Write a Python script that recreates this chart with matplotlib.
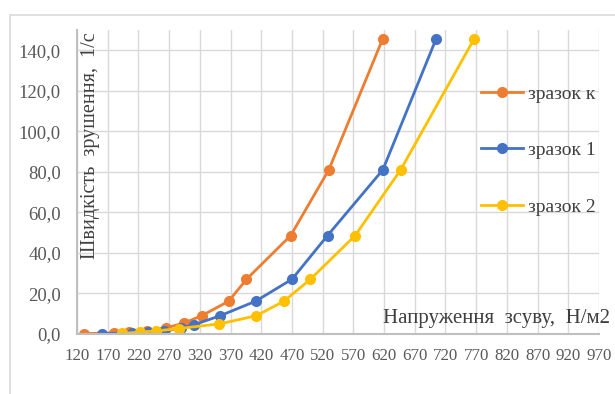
import matplotlib
matplotlib.use("Agg")
import matplotlib.pyplot as plt
from matplotlib.patches import Rectangle
from matplotlib.lines import Line2D

# Data
labels = ["зразок к", "зразок 1", "зразок 2"]
x_k = [131, 180, 205, 234, 265, 294, 323, 367, 396, 468, 530, 618]
y_k = [0.2, 0.5, 1.0, 1.5, 3.0, 5.4, 9.0, 16.2, 27.0, 48.6, 81.0, 145.8]
x_1 = [160, 209, 235, 262, 290, 310, 353, 411, 470, 528, 618, 705]
y_1 = [0.2, 0.5, 1.0, 1.5, 3.0, 4.5, 9.0, 16.2, 27.0, 48.6, 81.0, 145.8]
x_2 = [193, 222, 249, 286, 352, 412, 457, 500, 573, 647, 767]
y_2 = [0.3, 0.9, 1.5, 2.7, 5.0, 9.0, 16.2, 27.0, 48.6, 81.0, 145.8]
x_ticks = list(range(120, 971, 50))
y_ticks = list(range(0, 141, 20))
colors = ["#ED7D31", "#4472C4", "#FFC000"]

serif = ["Liberation Serif", "DejaVu Serif"]
plt.rcParams["font.family"] = serif

fig = plt.figure(figsize=(6.15, 3.94), dpi=100)
fig.patches.append(Rectangle((10 / 615, -0.05), 1.1, 1 - 15 / 394 + 0.05,
                             transform=fig.transFigure, fill=False,
                             edgecolor="#d9d9d9", linewidth=1.2))
left_px, right_px = 77, 599
ax = fig.add_axes([left_px / 615, 1 - 334 / 394, (right_px - left_px) / 615, (334 - 30) / 394])

series = [(x_k, y_k), (x_1, y_1), (x_2, y_2)]
for (xs, ys), c, lab in zip(series, colors, labels):
    ax.plot(xs, ys, color=c, lw=2.0, marker="o", markersize=8,
            markeredgewidth=0, label=lab, solid_capstyle="round")

ax.set_xlim(120, 970)
ax.set_ylim(0, 150)
ax.set_xticks(x_ticks)
ax.set_yticks(y_ticks)
ax.set_xticklabels([str(v) for v in x_ticks])
ax.set_yticklabels([f"{v:.1f}".replace(".", ",") for v in y_ticks])
ax.tick_params(axis="both", length=0, colors="#595959")
ax.tick_params(axis="y", pad=11.5, labelsize=13.5)
ax.tick_params(axis="x", pad=10, labelsize=12.2)
ax.grid(True, color="#d9d9d9", linewidth=1.0)
ax.set_axisbelow(True)
for s in ["top", "right"]:
    ax.spines[s].set_visible(False)
ax.spines["left"].set_color("#bfbfbf")
ax.spines["left"].set_linewidth(1.5)
ax.spines["bottom"].set_color("#bfbfbf")
ax.spines["bottom"].set_linewidth(1.5)

ax.text(0.008, 0.62, "Швидкість  зрушення,  1/с", transform=ax.transAxes,
        rotation=90, ha="left", va="center", fontsize=14.5, color="#404040")
ax.text((610 - left_px) / (right_px - left_px), 0.02, "Напруження  зсуву,  Н/м2",
        transform=ax.transAxes, ha="right", va="bottom", fontsize=15, color="#404040")

handles = [Line2D([0], [0], color=c, lw=2.0, marker="o", markersize=8,
                  markeredgewidth=0) for c in colors]
leg = ax.legend(handles, labels, loc="upper left",
                bbox_to_anchor=((481 - left_px) / (right_px - left_px), (334 - 85) / 304),
                frameon=False, fontsize=14, labelspacing=2.0, borderpad=0,
                borderaxespad=0, handlelength=2.16, handletextpad=0.25,
                labelcolor="#404040")

fig.savefig("out.png", dpi=100)
